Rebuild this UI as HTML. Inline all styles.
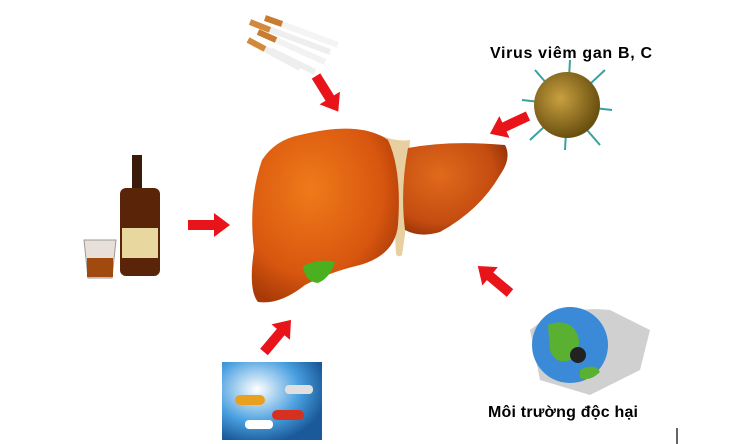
<!DOCTYPE html>
<html><head><meta charset="utf-8"><style>body{margin:0;background:#fff}svg{display:block}</style></head><body>
<svg width="730" height="444" viewBox="0 0 730 444" xmlns="http://www.w3.org/2000/svg">
<defs>
<radialGradient id="lv" cx="0.4" cy="0.35" r="0.7"><stop offset="0" stop-color="#f07a1a"/><stop offset="0.7" stop-color="#d8560f"/><stop offset="1" stop-color="#a83a08"/></radialGradient>
<radialGradient id="lv2" cx="0.35" cy="0.35" r="0.75"><stop offset="0" stop-color="#e06a1c"/><stop offset="0.7" stop-color="#c44c10"/><stop offset="1" stop-color="#8e2e06"/></radialGradient>
<radialGradient id="gl" cx="0.35" cy="0.35" r="0.7"><stop offset="0" stop-color="#ffffff"/><stop offset="0.6" stop-color="#4aa0e0"/><stop offset="1" stop-color="#1a5a9a"/></radialGradient>
<radialGradient id="vr" cx="0.4" cy="0.4" r="0.6"><stop offset="0" stop-color="#c8a040"/><stop offset="1" stop-color="#6a5010"/></radialGradient>
<g id="ar"><polygon points="0,-5 26,-5 26,-12 42,0 26,12 26,5 0,5" fill="#e8141a"/></g>
</defs>
<path d="M380 135 Q395 142 410 140 L405 235 L402 255 Q398 258 396 254 L395 235 Z" fill="#e8cfa0"/>
<path d="M300 135 Q360 120 388 140 Q402 170 398 225 Q395 255 360 265 Q330 272 305 285 Q280 305 258 302 Q248 290 254 250 Q248 200 262 160 Q275 140 300 135 Z" fill="url(#lv)"/>
<path d="M408 148 Q450 140 505 145 Q512 158 500 175 Q480 210 440 232 Q420 238 405 230 Q400 190 408 148 Z" fill="url(#lv2)"/>
<path d="M303 266 Q320 258 335 262 Q330 278 318 283 Q305 282 303 266 Z" fill="#4ab020"/>
<use href="#ar" transform="translate(316,76) rotate(58)"/>
<use href="#ar" transform="translate(528,116) rotate(155)"/>
<use href="#ar" transform="translate(188,225)"/>
<use href="#ar" transform="translate(510,293) rotate(-140)"/>
<use href="#ar" transform="translate(264,352) rotate(-50)"/>
<g stroke-width="6" stroke-linecap="butt">
<line x1="250" y1="22" x2="330" y2="52" stroke="#eee"/><line x1="250" y1="22" x2="270" y2="30" stroke="#d08a3a"/>
<line x1="258" y1="32" x2="325" y2="62" stroke="#f2f2f2"/><line x1="258" y1="32" x2="276" y2="40" stroke="#c97c30"/>
<line x1="248" y1="40" x2="300" y2="68" stroke="#eee"/><line x1="248" y1="40" x2="265" y2="49" stroke="#d08a3a"/>
<line x1="265" y1="18" x2="338" y2="45" stroke="#f4f4f4"/><line x1="265" y1="18" x2="282" y2="24" stroke="#c97c30"/>
<line x1="270" y1="50" x2="315" y2="72" stroke="#eee"/>
</g>
<g stroke="#3aa0a0" stroke-width="2">
<line x1="522" y1="100" x2="612" y2="110"/><line x1="570" y1="60" x2="565" y2="150"/><line x1="535" y1="70" x2="600" y2="145"/><line x1="605" y1="70" x2="530" y2="140"/>
</g>
<circle cx="567" cy="105" r="33" fill="url(#vr)"/>
<rect x="132" y="155" width="10" height="35" fill="#3a1a08"/>
<rect x="120" y="188" width="40" height="88" rx="6" fill="#5a2408"/>
<rect x="122" y="228" width="36" height="30" fill="#e8d8a0"/>
<path d="M84 240 L116 240 L112 278 L88 278 Z" fill="#e8e0d8" stroke="#999"/>
<rect x="87" y="258" width="26" height="19" fill="#a04a10"/>
<rect x="222" y="362" width="100" height="78" fill="url(#gl)"/>
<g fill="#e8a020"><rect x="235" y="395" width="30" height="10" rx="5"/><rect x="272" y="410" width="32" height="10" rx="5" fill="#d83020"/><rect x="245" y="420" width="28" height="9" rx="4" fill="#fff"/><rect x="285" y="385" width="28" height="9" rx="4" fill="#e0e0e0"/></g>
<path d="M530 330 Q560 305 610 310 L650 330 L640 370 L590 395 L540 380 Z" fill="#d0d0d0"/>
<circle cx="570" cy="345" r="38" fill="#3a8ad8"/>
<path d="M548 325 Q565 318 575 330 Q585 345 570 360 Q555 365 550 350 Z M580 370 Q595 362 600 372 Q590 382 580 378Z" fill="#5ab030"/>
<circle cx="578" cy="355" r="8" fill="#222"/>
<text x="490" y="58" font-family="Liberation Sans, sans-serif" font-weight="bold" font-size="16" fill="#000" textLength="162">Virus viêm gan B, C</text>
<text x="488" y="417" font-family="Liberation Sans, sans-serif" font-weight="bold" font-size="16" fill="#000" textLength="150">Môi trường độc hại</text>
<line x1="677" y1="428" x2="677" y2="444" stroke="#333" stroke-width="1.5"/>
</svg>
</body></html>
